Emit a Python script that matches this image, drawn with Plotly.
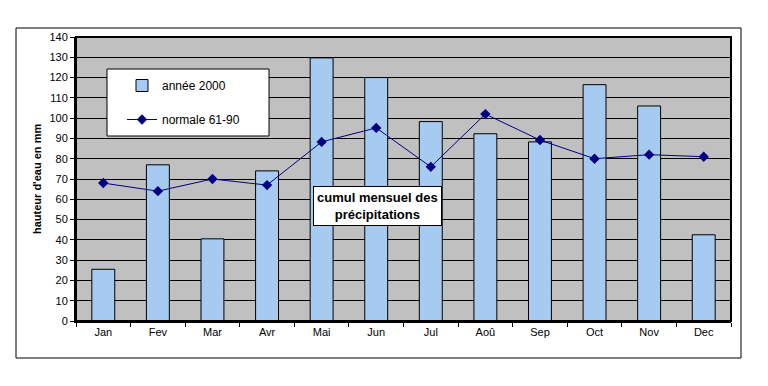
import plotly.graph_objects as go

months = ["Jan", "Fev", "Mar", "Avr", "Mai", "Jun", "Jul", "Aoû", "Sep", "Oct", "Nov", "Dec"]
annee_2000 = [25.5, 77, 40.5, 74, 129.7, 120, 98.3, 92.3, 88.3, 116.5, 106, 42.5]
normale_61_90 = [68, 64, 70, 67, 88.3, 95.2, 76, 102, 89.2, 80, 82, 81]
y_ticks = list(range(0, 141, 10))

# page offset of the figure div (default body margin)
OFF = 8
W, H = 768 - OFF, 386 - OFF
L, R, T, B = 76, 731, 37, 321  # plot area in page pixels


def px(x):
    return (x - L) / (R - L)


def py(y):
    return (B - y) / (B - T)


FONT = "Arial, Liberation Sans, sans-serif"

fig = go.Figure()
fig.add_trace(go.Bar(
    x=months, y=annee_2000, name="année 2000",
    marker=dict(color="#A6CAF0", line=dict(color="black", width=1)),
    legendgroup="a",
))
fig.add_trace(go.Scatter(
    x=months, y=normale_61_90, name="normale 61-90", mode="lines+markers",
    line=dict(color="#000080", width=1),
    marker=dict(symbol="diamond", size=8, color="#000080"),
    legendgroup="b",
))

shapes = [
    # outer chart frame
    dict(type="rect", xref="paper", yref="paper", x0=px(16), x1=px(741), y0=py(358), y1=py(28),
         line=dict(color="black", width=1), fillcolor="rgba(0,0,0,0)", layer="below"),
    # plot area frame
    dict(type="rect", xref="paper", yref="paper", x0=0, x1=1, y0=0, y1=1,
         line=dict(color="black", width=2), fillcolor="rgba(0,0,0,0)", layer="above"),
    # legend box
    dict(type="rect", xref="paper", yref="paper", x0=px(107), x1=px(269), y0=py(136), y1=py(69),
         line=dict(color="black", width=1), fillcolor="white", layer="above"),
]

fig.update_layout(
    width=W, height=H,
    margin=dict(l=L - OFF, r=768 - R, t=T - OFF, b=386 - B, pad=0),
    paper_bgcolor="white", plot_bgcolor="#C0C0C0",
    font=dict(family=FONT, size=11, color="black"),
    bargap=0.58,
    showlegend=True,
    legend=dict(x=px(122), y=py(71), xanchor="left", yanchor="top",
                bgcolor="rgba(0,0,0,0)", borderwidth=0,
                font=dict(family=FONT, size=12, color="black"),
                traceorder="grouped", tracegroupgap=15),
    shapes=shapes,
    annotations=[
        dict(text="<b>cumul mensuel des<br>précipitations</b>", xref="paper", yref="paper",
             x=px(377), y=py(206), xanchor="center", yanchor="middle", showarrow=False,
             font=dict(family=FONT, size=13, color="black"), bgcolor="white",
             bordercolor="black", borderwidth=1, borderpad=3, align="center"),
        dict(text="<b>hauteur d'eau en mm</b>", xref="paper", yref="paper",
             x=px(37), y=py(179), xanchor="center", yanchor="middle", showarrow=False,
             textangle=-90, font=dict(family=FONT, size=11, color="black")),
    ],
)
fig.update_xaxes(
    type="category", range=[-0.5, len(months) - 0.5],
    showgrid=False, ticks="outside", tickson="boundaries", ticklen=4,
    tickcolor="black", showline=True, linecolor="black", linewidth=2,
    tickfont=dict(family=FONT, size=11, color="black"),
)
fig.update_yaxes(
    range=[0, 140], tickvals=y_ticks, ticktext=[str(v) for v in y_ticks],
    showgrid=True, gridcolor="black", gridwidth=1, zeroline=False,
    ticks="outside", ticklen=4, tickcolor="black", showline=True, linecolor="black", linewidth=2,
    tickfont=dict(family=FONT, size=11, color="black"),
)

fig.write_html("out.html")
